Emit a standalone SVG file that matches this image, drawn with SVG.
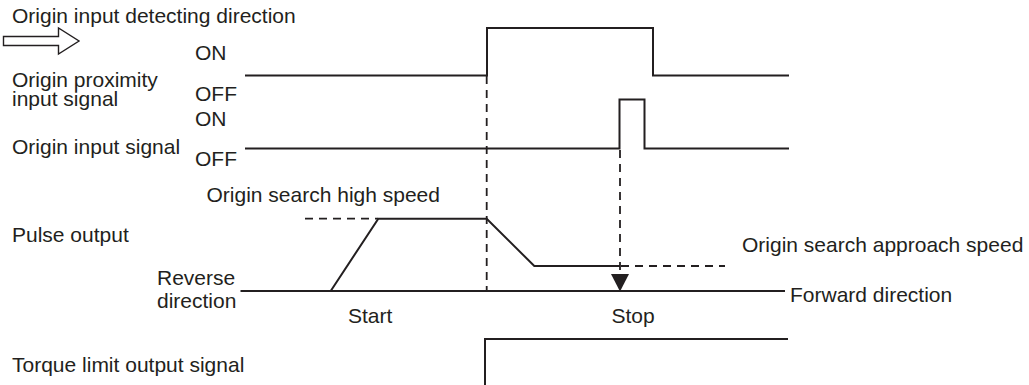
<svg xmlns="http://www.w3.org/2000/svg" width="1029" height="385" viewBox="0 0 1029 385">
<style>
text{font-family:"Liberation Sans",Arial,Helvetica,sans-serif;font-size:21px;fill:#231f20}
.sig{fill:none;stroke:#231f20;stroke-width:2;stroke-linejoin:miter}
.dash{fill:none;stroke:#231f20;stroke-width:1.8;stroke-dasharray:8 6}
</style>
<rect width="1029" height="385" fill="#fff"/>
<g id="title">
<text x="12" y="23">Origin input detecting direction</text>
<polygon points="3.5,36.5 58.5,36.5 58.5,28 79,41 58.5,54 58.5,45.5 3.5,45.5" fill="#fff" stroke="#231f20" stroke-width="1.4"/>
</g>
<g id="proximity">
<text x="12" y="87">Origin proximity</text>
<text x="12" y="106">input signal</text>
<text x="195" y="60">ON</text>
<text x="195" y="101">OFF</text>
<path class="sig" d="M245,75.5 H487 V28 H653 V75.5 H789"/>
</g>
<g id="origin-input">
<text x="12" y="154">Origin input signal</text>
<text x="195" y="126">ON</text>
<text x="195" y="165.5">OFF</text>
<path class="sig" d="M245,148.5 H619.5 V99.5 H644.5 V148.5 H789"/>
</g>
<g id="pulse">
<text x="12" y="241.5">Pulse output</text>
<text x="206.5" y="201.5">Origin search high speed</text>
<text x="742" y="251.5">Origin search approach speed</text>
<text x="157" y="285">Reverse</text>
<text x="157" y="308">direction</text>
<text x="790" y="301.5">Forward direction</text>
<text x="348" y="322.5">Start</text>
<text x="611.5" y="322.5">Stop</text>
<path class="sig" d="M240.5,291 H785"/>
<path class="sig" d="M330.7,291 L378.3,218.7 H486.7 L534.3,266 H620"/>
</g>
<g id="torque">
<text x="12" y="371.5">Torque limit output signal</text>
<path class="sig" d="M485,385 V339 H788"/>
</g>
<g id="connectors">
<path class="dash" d="M486.7,76 V291"/>
<path class="dash" d="M620,150 V274"/>
<path class="dash" d="M305,218.7 H378"/>
<path class="dash" d="M621,266 H725"/>
<polygon points="611,274 629,274 620,291.5" fill="#231f20"/>
</g>
</svg>
